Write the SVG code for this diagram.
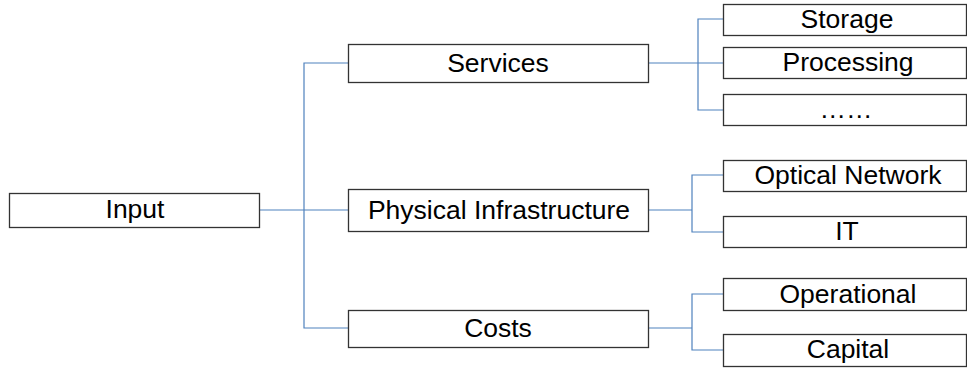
<svg xmlns="http://www.w3.org/2000/svg" width="967" height="368" viewBox="0 0 967 368">
  <style>
    .box { fill: #ffffff; stroke: #333333; stroke-width: 1.3; }
    .label { font-family: "Liberation Sans", Arial, sans-serif; font-size: 26.5px; fill: #000000; text-anchor: middle; }
    .link { fill: none; stroke: #4f81bd; stroke-width: 1.2; }
  </style>
  <rect width="967" height="368" fill="#ffffff"/>

  <!-- tree connectors -->
  <g id="connectors">
    <path class="link" d="M260 210 H348"/>
    <path class="link" d="M348 63 H304 V328 H348"/>
    <path class="link" d="M649 63 H723"/>
    <path class="link" d="M723 19 H698 V110 H723"/>
    <path class="link" d="M649 210 H692"/>
    <path class="link" d="M723 175 H692 V232 H723"/>
    <path class="link" d="M649 328 H692"/>
    <path class="link" d="M723 294 H692 V350 H723"/>
  </g>

  <g id="input">
    <rect class="box" x="9.5" y="193.5" width="250" height="34"/>
    <text class="label" x="135" y="218">Input</text>
  </g>

  <g id="services">
    <rect class="box" x="348.5" y="44.5" width="300" height="38"/>
    <text class="label" x="498" y="72">Services</text>
  </g>
  <g id="physical-infrastructure">
    <rect class="box" x="348.5" y="189.5" width="300" height="42"/>
    <text class="label" x="499" y="219">Physical Infrastructure</text>
  </g>
  <g id="costs">
    <rect class="box" x="348.5" y="310.5" width="300" height="37"/>
    <text class="label" x="498" y="337">Costs</text>
  </g>

  <g id="storage">
    <rect class="box" x="723.5" y="4.5" width="243" height="31"/>
    <text class="label" x="847" y="28">Storage</text>
  </g>
  <g id="processing">
    <rect class="box" x="723.5" y="47.5" width="243" height="31"/>
    <text class="label" x="848" y="71">Processing</text>
  </g>
  <g id="more-services">
    <rect class="box" x="723.5" y="94.5" width="243" height="31"/>
    <text class="label" x="846" y="118">……</text>
  </g>
  <g id="optical-network">
    <rect class="box" x="723.5" y="160.5" width="243" height="31"/>
    <text class="label" x="848" y="184">Optical Network</text>
  </g>
  <g id="it">
    <rect class="box" x="723.5" y="216.5" width="243" height="31"/>
    <text class="label" x="847" y="240">IT</text>
  </g>
  <g id="operational">
    <rect class="box" x="723.5" y="278.5" width="243" height="32"/>
    <text class="label" x="848" y="303">Operational</text>
  </g>
  <g id="capital">
    <rect class="box" x="723.5" y="334.5" width="243" height="32"/>
    <text class="label" x="848" y="358">Capital</text>
  </g>
</svg>
